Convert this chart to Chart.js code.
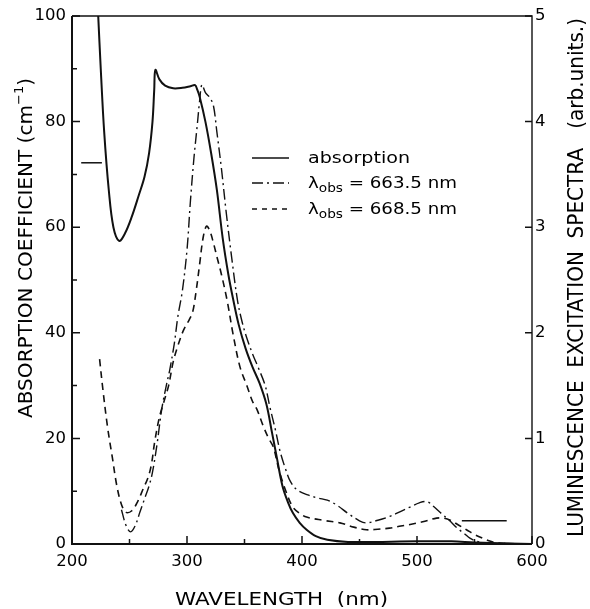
<!DOCTYPE html>
<html lang="en">
<head>
<meta charset="UTF-8">
<title>Absorption and luminescence excitation spectra</title>
<script src="https://cdn.jsdelivr.net/npm/chart.js"></script>
<style>
  body { margin: 0; background: #fff; }
  #wrap { width: 590px; height: 609px; position: relative; }
</style>
</head>
<body>
<div id="wrap"><canvas id="spectra"></canvas></div>
<script>
// absorption coefficient (cm-1), left axis
const absWl  = [222.8, 225, 228, 232, 236, 241, 246, 252, 258, 263, 267, 270, 271.5, 272.5, 276, 281, 288, 296, 303, 307, 309, 311, 316, 321, 326, 331, 336, 340, 345, 351, 357, 363, 369, 374, 378, 383, 388, 392, 398, 404, 412, 422, 440, 470, 500, 530, 550, 580, 600];
const absVal = [100, 90, 78, 67, 60, 57.4, 58.8, 62, 66, 69.5, 74, 80, 86, 89.8, 88, 86.8, 86.3, 86.4, 86.7, 86.9, 86, 84.7, 80, 74, 67, 58, 51, 46.5, 41.5, 37, 33.5, 30.5, 26.5, 21, 16.5, 11, 7.8, 5.9, 4, 2.7, 1.5, 0.8, 0.4, 0.4, 0.5, 0.5, 0.3, 0.1, 0];

// luminescence excitation, lambda_obs = 663.5 nm (arb. units, right axis)
const lum1Wl  = [243, 247, 251, 255, 259, 263, 267, 270, 274, 278, 282, 285, 289, 292, 296, 300, 303, 306, 309, 311, 313, 316, 320, 323, 326, 330, 334, 339, 344, 348, 352, 357, 362, 368, 372, 377, 381, 386, 390, 396, 405, 414, 422, 430, 440, 450, 456, 466, 476, 486, 494, 502, 509, 515, 520, 528, 535, 541, 546, 552, 560, 580, 598];
const lum1Val = [0.325, 0.175, 0.115, 0.175, 0.30, 0.425, 0.55, 0.68, 0.95, 1.275, 1.50, 1.65, 1.90, 2.15, 2.40, 2.785, 3.25, 3.65, 3.975, 4.20, 4.35, 4.275, 4.225, 4.15, 3.90, 3.55, 3.15, 2.70, 2.30, 2.10, 1.95, 1.80, 1.67, 1.50, 1.30, 1.075, 0.875, 0.70, 0.59, 0.51, 0.465, 0.435, 0.415, 0.37, 0.29, 0.22, 0.20, 0.225, 0.26, 0.31, 0.35, 0.39, 0.40, 0.35, 0.30, 0.225, 0.15, 0.10, 0.055, 0.025, 0.01, 0.005, 0];

// luminescence excitation, lambda_obs = 668.5 nm
const lum2Wl  = [224, 227, 231, 235, 239, 243, 247, 252, 257, 262, 266, 269, 272, 276, 280, 284, 288, 292, 297, 302, 305, 308, 311, 314, 317, 320, 323, 326, 330, 335, 340, 346, 352, 357, 361, 366, 371, 375, 380, 386, 392, 398, 404, 418, 433, 445, 456, 466, 476, 486, 494, 505, 517, 523, 529, 536, 543, 550, 557, 564, 570, 580, 598];
const lum2Val = [1.75, 1.45, 1.10, 0.825, 0.55, 0.375, 0.30, 0.315, 0.40, 0.525, 0.625, 0.75, 0.975, 1.20, 1.35, 1.50, 1.725, 1.875, 2.025, 2.125, 2.20, 2.40, 2.65, 2.90, 3.01, 2.96, 2.85, 2.72, 2.55, 2.30, 1.99, 1.68, 1.50, 1.35, 1.27, 1.125, 1.00, 0.92, 0.70, 0.50, 0.35, 0.29, 0.255, 0.225, 0.20, 0.16, 0.135, 0.14, 0.15, 0.17, 0.185, 0.21, 0.245, 0.245, 0.225, 0.18, 0.135, 0.09, 0.055, 0.025, 0.01, 0.0025, 0];

// short horizontal level marks
const markLeftWl   = [208, 226];
const markLeftVal  = [72.2, 72.2];
const markRightWl  = [539, 578];
const markRightVal = [0.22, 0.22];

const FONT = "'DejaVu Sans', sans-serif";
Chart.defaults.font.family = FONT;
Chart.defaults.color = '#000';

function pts(xs, ys) {
  return xs.map((x, i) => ({ x: x, y: ys[i] }));
}

// draws text pieces one after another, squeezed/stretched to a given length
function drawParts(ctx, parts, ox, oy, width, angle) {
  ctx.save();
  ctx.translate(ox, oy);
  ctx.rotate(angle || 0);
  let total = 0;
  parts.forEach(p => {
    ctx.font = p.size + 'px ' + FONT;
    p.w = ctx.measureText(p.t).width;
    total += p.w;
  });
  ctx.scale(width / total, 1);
  ctx.textAlign = 'left';
  ctx.textBaseline = 'alphabetic';
  ctx.fillStyle = '#000';
  let x = 0;
  parts.forEach(p => {
    ctx.font = p.size + 'px ' + FONT;
    ctx.fillText(p.t, x, p.dy || 0);
    x += p.w;
  });
  ctx.restore();
}

const decor = {
  id: 'decor',
  afterDraw(chart) {
    const { ctx, chartArea: a, scales } = chart;
    ctx.save();
    ctx.strokeStyle = '#111';
    ctx.setLineDash([]);

    // frame
    ctx.lineWidth = 2;
    ctx.beginPath();
    ctx.moveTo(a.left, a.top); ctx.lineTo(a.left, a.bottom); ctx.lineTo(a.right, a.bottom);
    ctx.stroke();
    ctx.lineWidth = 1.4;
    ctx.beginPath();
    ctx.moveTo(a.left, a.top); ctx.lineTo(a.right, a.top); ctx.lineTo(a.right, a.bottom);
    ctx.stroke();

    // inward ticks
    ctx.lineWidth = 1.5;
    ctx.beginPath();
    for (let v = 200; v <= 600; v += 50) {
      const px = scales.x.getPixelForValue(v);
      const len = v % 100 === 0 ? 8 : 5;
      ctx.moveTo(px, a.bottom); ctx.lineTo(px, a.bottom - len);
    }
    for (let v = 0; v <= 100; v += 10) {
      const py = scales.y.getPixelForValue(v);
      const len = v % 20 === 0 ? 8 : 5;
      ctx.moveTo(a.left, py); ctx.lineTo(a.left + len, py);
    }
    for (let v = 0; v <= 5; v += 1) {
      const py = scales.y1.getPixelForValue(v);
      ctx.moveTo(a.right, py); ctx.lineTo(a.right - 7, py);
    }
    ctx.stroke();

    // legend
    const rows = [
      { y: 158, dash: [], parts: [{ t: 'absorption', size: 16 }], w: 102 },
      { y: 183, dash: [11, 4, 2, 4], parts: [{ t: '\u03bb', size: 16 }, { t: 'obs', size: 12, dy: 4 }, { t: ' = 663.5 nm', size: 16 }], w: 149 },
      { y: 209, dash: [5, 5], parts: [{ t: '\u03bb', size: 16 }, { t: 'obs', size: 12, dy: 4 }, { t: ' = 668.5 nm', size: 16 }], w: 149 }
    ];
    rows.forEach(r => {
      ctx.lineWidth = 1.6;
      ctx.setLineDash(r.dash);
      ctx.beginPath();
      ctx.moveTo(252, r.y); ctx.lineTo(289, r.y);
      ctx.stroke();
      drawParts(ctx, r.parts, 308, r.y + 5, r.w, 0);
    });
    ctx.setLineDash([]);

    // axis titles
    drawParts(ctx, [{ t: 'WAVELENGTH  (nm)', size: 18 }], 175, 605, 213, 0);
    drawParts(ctx, [
      { t: 'ABSORPTION COEFFICIENT (cm', size: 20 },
      { t: '\u22121', size: 13, dy: -9 },
      { t: ')', size: 20 }
    ], 32, 418, 340, -Math.PI / 2);
    drawParts(ctx, [{ t: 'LUMINESCENCE  EXCITATION  SPECTRA   (arb.units.)', size: 21 }], 583, 537, 519, -Math.PI / 2);
    ctx.restore();
  }
};

const lineBase = { borderColor: '#111', pointRadius: 0, fill: false, tension: 0.35 };

new Chart(document.getElementById('spectra'), {
  type: 'line',
  data: {
    datasets: [
      { ...lineBase, label: 'absorption', data: pts(absWl, absVal), yAxisID: 'y', borderWidth: 2 },
      { ...lineBase, label: 'obs 663.5 nm', data: pts(lum1Wl, lum1Val), yAxisID: 'y1', borderWidth: 1.4, borderDash: [11, 4, 2, 4] },
      { ...lineBase, label: 'obs 668.5 nm', data: pts(lum2Wl, lum2Val), yAxisID: 'y1', borderWidth: 1.6, borderDash: [7, 5] },
      { ...lineBase, label: 'mark1', data: pts(markLeftWl, markLeftVal), yAxisID: 'y', borderWidth: 1.5, tension: 0 },
      { ...lineBase, label: 'mark2', data: pts(markRightWl, markRightVal), yAxisID: 'y1', borderWidth: 1.5, tension: 0 }
    ]
  },
  options: {
    responsive: true,
    maintainAspectRatio: false,
    animation: false,
    layout: { padding: { top: 16, left: 0, right: 0, bottom: 0 } },
    plugins: { legend: { display: false }, tooltip: { enabled: false } },
    scales: {
      x: {
        type: 'linear', min: 200, max: 600,
        ticks: { stepSize: 100, padding: 8, maxRotation: 0, font: { size: 16.5 } },
        grid: { display: false, drawTicks: false },
        border: { display: false },
        afterFit: s => { s.height = 65; }
      },
      y: {
        position: 'left', min: 0, max: 100,
        ticks: { stepSize: 20, padding: 6, font: { size: 16.5 } },
        grid: { display: false, drawTicks: false },
        border: { display: false },
        afterFit: s => { s.width = 72; }
      },
      y1: {
        position: 'right', min: 0, max: 5,
        ticks: { stepSize: 1, padding: 3, font: { size: 16.5 } },
        grid: { display: false, drawTicks: false },
        border: { display: false },
        afterFit: s => { s.width = 58; }
      }
    }
  },
  plugins: [decor]
});
</script>
</body>
</html>
